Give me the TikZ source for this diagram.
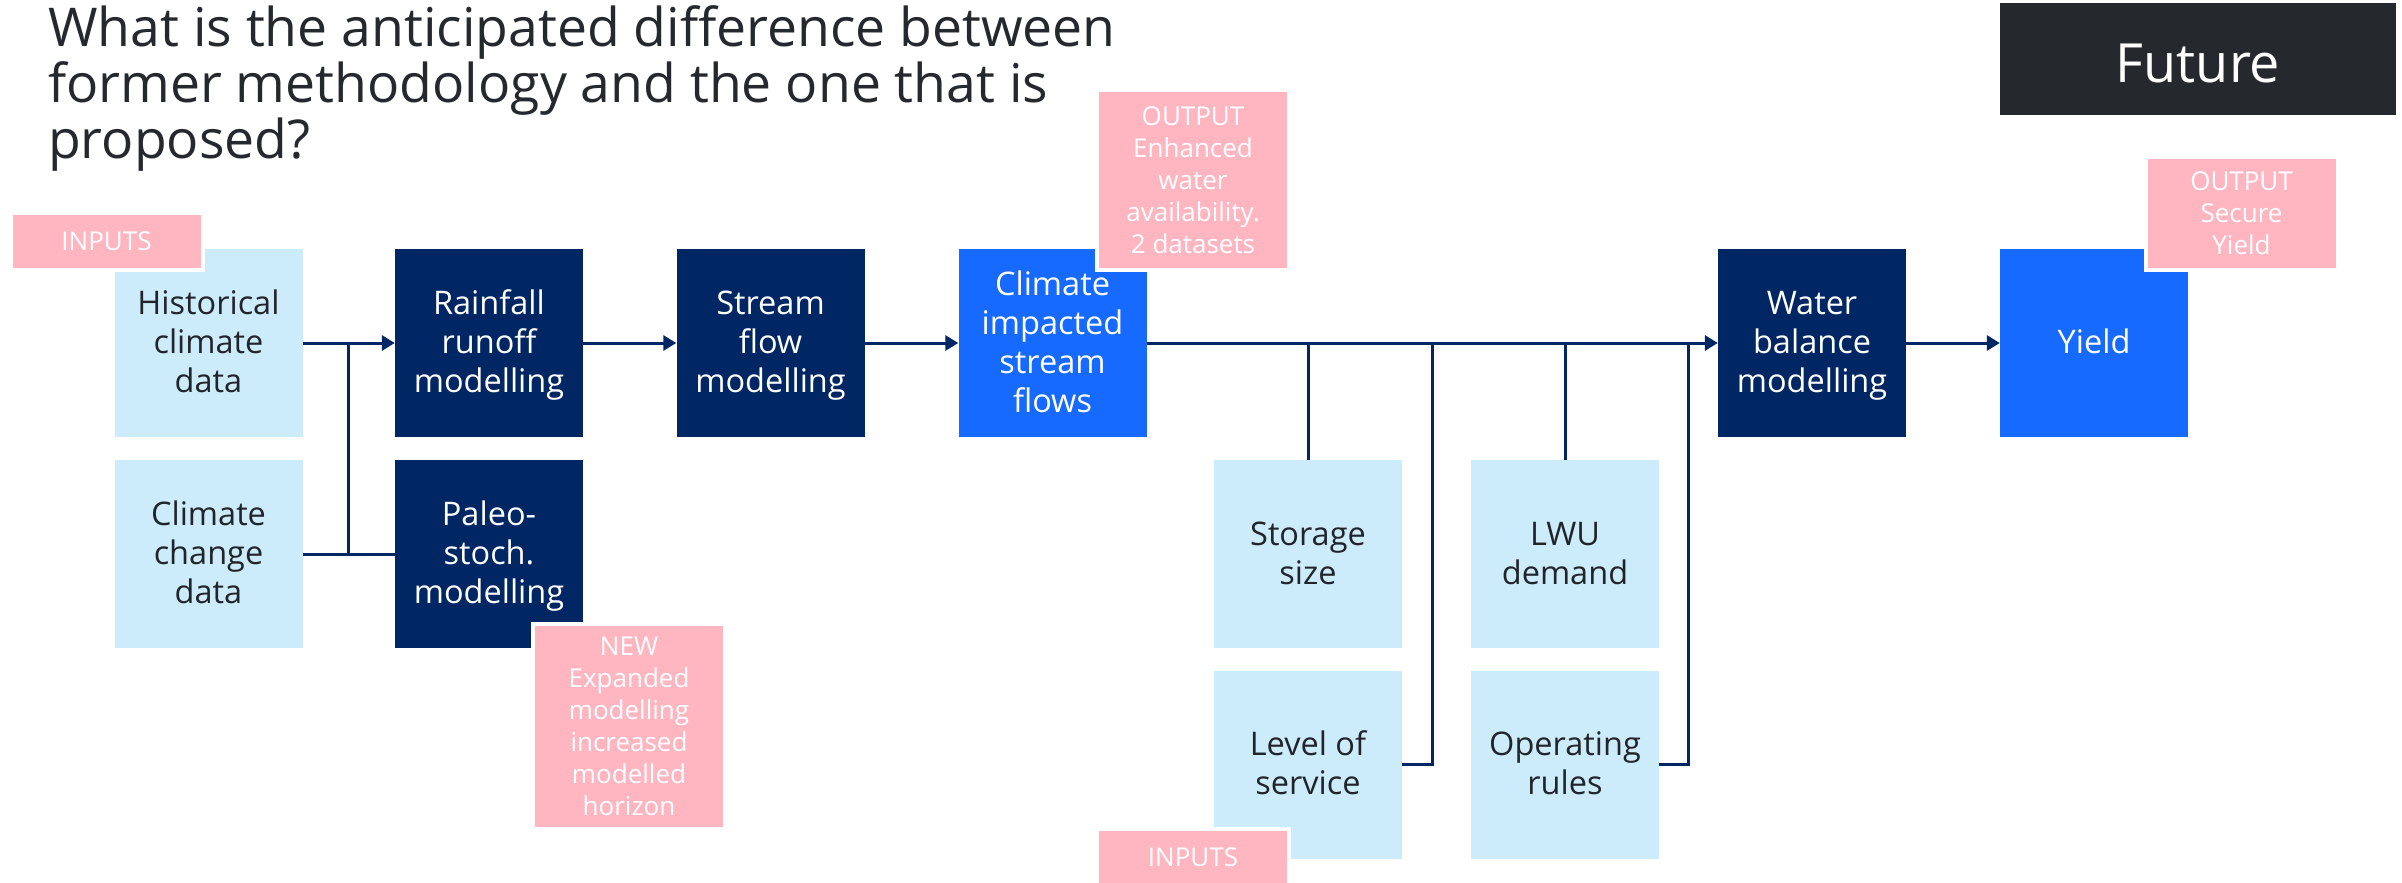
\documentclass[tikz,border=0pt]{standalone}
\usepackage{fontspec}
\usepackage{array}
\setmainfont{Open Sans}
\usetikzlibrary{arrows.meta}
\definecolor{navy}{RGB}{0,38,100}
\definecolor{brightblue}{RGB}{22,106,255}
\definecolor{paleblue}{RGB}{204,235,251}
\definecolor{tagpink}{RGB}{255,182,193}
\definecolor{charcoal}{RGB}{37,41,45}
\definecolor{inktext}{RGB}{33,37,41}
% every stage label line gets the same height and depth (39pt pitch)
\newcommand{\stagestrut}{\rule[-9pt]{0pt}{39pt}}
\newcommand{\stagelines}[1]{{\renewcommand{\arraystretch}{0}%
  \begin{tabular}{@{}>{\stagestrut}c@{}}#1\end{tabular}}}
\begin{document}
\begin{tikzpicture}[x=1pt,y=-1pt,
  stage/.style={minimum width=188pt,minimum height=188pt,inner sep=0pt,
    font=\fontsize{32.5}{39}\selectfont},
  inputbox/.style={stage,fill=paleblue,text=inktext},
  modelbox/.style={stage,fill=navy,text=white},
  resultbox/.style={stage,fill=brightblue,text=white},
  tag/.style={fill=tagpink,text=white,inner sep=0pt,minimum width=188pt,align=center,
    font=\fontsize{26}{32}\selectfont,preaction={draw=white,line width=8pt}},
  link/.style={draw=navy,line width=3pt},
  flow/.style={link,-{Triangle[length=13pt,width=15pt]}}
]
\useasboundingbox (0,0) rectangle (2402,883);

% heading (anchored on the baseline of its last line) and scenario banner
\node[anchor=base west,inner sep=0pt,align=left,text=charcoal,
  font=\fontsize{53.5}{56}\selectfont] (title) at (48,158)
  {What is the anticipated difference between\\former methodology and the one that is\\proposed?};
\node[fill=charcoal,text=white,minimum width=396pt,minimum height=112pt,inner sep=0pt,
  text height=46pt,text depth=0pt,
  font=\fontsize{54}{60}\selectfont] (future) at (2198,59) {Future};

% process stages
\node[inputbox]  (hist)   at (208.5,343) {\stagelines{Historical\\climate\\data}};
\node[inputbox]  (cc)     at (208.5,554) {\stagelines{Climate\\change\\data}};
\node[modelbox]  (rain)   at (489,343)   {\stagelines{Rainfall\\runoff\\modelling}};
\node[modelbox]  (paleo)  at (489,554)   {\stagelines{Paleo-\\stoch.\\modelling}};
\node[modelbox]  (stream) at (770.5,343) {\stagelines{Stream\\flow\\modelling}};
\node[resultbox] (cimp)   at (1052.5,343){\stagelines{Climate\\impacted\\stream\\flows}};
\node[inputbox]  (stor)   at (1308,554)  {\stagelines{Storage\\size}};
\node[inputbox]  (los)    at (1308,764.5){\stagelines{Level of\\service}};
\node[inputbox]  (lwu)    at (1565,554)  {\stagelines{LWU\\demand}};
\node[inputbox]  (oprul)  at (1565,764.5){\stagelines{Operating\\rules}};
\node[modelbox]  (wb)     at (1812,343)  {\stagelines{Water\\balance\\modelling}};
\node[resultbox] (yield)  at (2094,343)  {\stagelines{Yield}};

% junction points
\coordinate (j1) at (348,343);
\coordinate (j2) at (1432,764.5);
\coordinate (j3) at (1688,764.5);

% connectors
\draw[flow] (hist) -- (rain);
\draw[link] (cc) -- (paleo);
\draw[link] (j1 |- cc) -- (j1);
\draw[flow] (rain) -- (stream);
\draw[flow] (stream) -- (cimp);
\draw[flow] (cimp) -- (wb);
\draw[link] (stor.north) -- (stor |- cimp);
\draw[link] (lwu.north) -- (lwu |- cimp);
\draw[link] (los.east) -- (j2) -- (j2 |- cimp);
\draw[link] (oprul.east) -- (j3) -- (j3 |- cimp);
\draw[flow] (wb) -- (yield);

% annotation tags
\node[tag,minimum height=53pt]  (tin1) at (106.5,241.5) {INPUTS};
\node[tag,minimum height=176pt] (tout1) at (1193,180) {OUTPUT\\Enhanced\\water\\availability.\\2 datasets};
\node[tag,minimum height=201pt] (tnew) at (629,726.5) {NEW\\Expanded\\modelling\\increased\\modelled\\horizon};
\node[tag,minimum height=109pt] (tout2) at (2241.5,213.5) {OUTPUT\\Secure\\Yield};
\node[tag,minimum height=53pt]  (tin2) at (1193,857.5) {INPUTS};
\end{tikzpicture}
\end{document}
